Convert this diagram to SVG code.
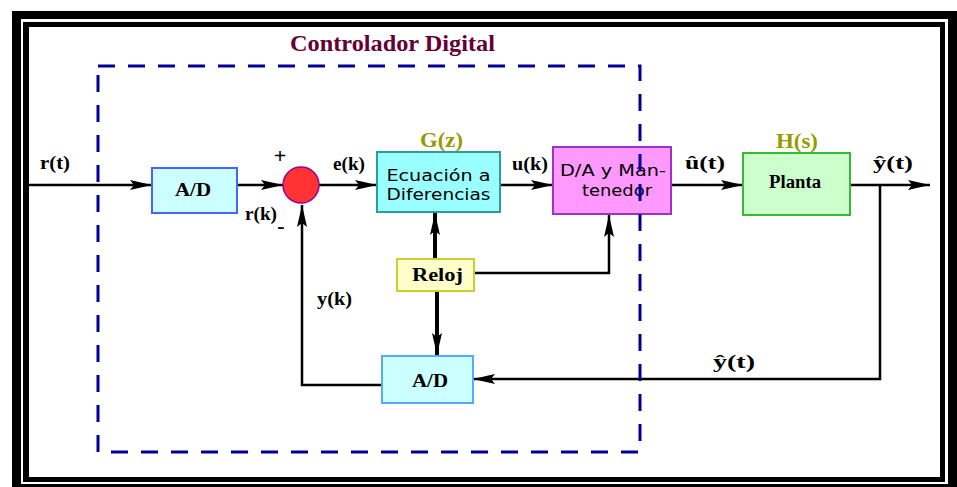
<svg xmlns="http://www.w3.org/2000/svg" width="957" height="487" viewBox="0 0 957 487">
<style>
.ln{fill:none;stroke:#000;stroke-width:2.5}
.thk{fill:none;stroke:#000;stroke-width:4}
.lbl{font-family:"Liberation Serif",serif;font-weight:bold;font-size:18px;fill:#000}
.olive{font-family:"Liberation Serif",serif;font-weight:bold;font-size:20px;fill:#999900}
.sans{font-family:"DejaVu Sans","Liberation Sans",sans-serif;font-size:16px;fill:#000}
.ser{font-family:"Liberation Serif",serif;font-weight:bold;font-size:18px;fill:#000}
</style>
<defs>
<marker id="ah" markerWidth="22" markerHeight="12" refX="22" refY="6" orient="auto" markerUnits="userSpaceOnUse">
<path d="M0,1 L22,6 L0,11 L4,6 Z" fill="#000"/>
</marker>
</defs>
<rect width="957" height="487" fill="#fff"/>
<g id="frame">
<rect x="12" y="11" width="945" height="476" fill="#000"/>
<rect x="21" y="19" width="927" height="465" fill="#fff"/>
<rect x="23" y="22" width="922" height="460" fill="#000"/>
<rect x="29" y="27" width="911" height="450" fill="#fff"/>
</g>
<g id="connectors">
<line class="ln" x1="29" y1="185" x2="152" y2="185" marker-end="url(#ah)"/>
<line class="ln" x1="237" y1="185" x2="283" y2="185" marker-end="url(#ah)"/>
<line class="ln" x1="319" y1="185" x2="377" y2="185" marker-end="url(#ah)"/>
<line class="ln" x1="500" y1="185" x2="553" y2="185" marker-end="url(#ah)"/>
<line class="ln" x1="671" y1="185" x2="743" y2="185" marker-end="url(#ah)"/>
<line class="ln" x1="850" y1="185" x2="930" y2="185" marker-end="url(#ah)"/>
<polyline class="ln" points="880,185 880,379 473,379" marker-end="url(#ah)"/>
<polyline class="ln" points="382,385 302,385 302,205" marker-end="url(#ah)"/>
<line class="thk" x1="435" y1="259" x2="435" y2="213" marker-end="url(#ah)"/>
<line class="thk" x1="437" y1="291" x2="437" y2="355" marker-end="url(#ah)"/>
<polyline class="ln" points="474,273 609,273 609,215" marker-end="url(#ah)"/>
</g>
<g id="ad1">
<rect x="152" y="168" width="85" height="45" fill="#ccffff" stroke="#4466ff" stroke-width="2"/>
<text class="ser" x="175" y="196" textLength="36" lengthAdjust="spacingAndGlyphs">A/D</text>
</g>
<g id="sum">
<circle cx="301" cy="185" r="18" fill="#ff3333" stroke="#990099" stroke-width="1.5"/>
<text class="lbl" x="280" y="163" text-anchor="middle" style="font-size:22px">+</text>
<text class="lbl" x="281" y="233" text-anchor="middle" style="font-size:22px">-</text>
</g>
<g id="ecuacion">
<rect x="377" y="152" width="123" height="60" fill="#99ffff" stroke="#339999" stroke-width="2"/>
<text class="sans" x="438.5" y="181" text-anchor="middle" textLength="104" lengthAdjust="spacingAndGlyphs">Ecuación a</text>
<text class="sans" x="438.5" y="200" text-anchor="middle" textLength="104" lengthAdjust="spacingAndGlyphs">Diferencias</text>
<text class="olive" x="420" y="147" textLength="43" lengthAdjust="spacingAndGlyphs">G(z)</text>
</g>
<g id="da">
<rect x="553" y="147" width="118" height="67" fill="#ff99ff" stroke="#9933cc" stroke-width="2"/>
<text class="sans" x="560" y="176" textLength="106" lengthAdjust="spacingAndGlyphs">D/A y Man-</text>
<text class="sans" x="582" y="196" textLength="70" lengthAdjust="spacingAndGlyphs">tenedor</text>
</g>
<g id="planta">
<rect x="743" y="153" width="107" height="62" fill="#ccffcc" stroke="#33bb33" stroke-width="2"/>
<text class="ser" x="769" y="188" textLength="52" lengthAdjust="spacingAndGlyphs">Planta</text>
<text class="olive" x="776" y="148" textLength="42" lengthAdjust="spacingAndGlyphs">H(s)</text>
</g>
<g id="reloj">
<rect x="397" y="259" width="77" height="32" fill="#ffffcc" stroke="#cccc33" stroke-width="2"/>
<text class="ser" x="412" y="281" textLength="51" lengthAdjust="spacingAndGlyphs">Reloj</text>
</g>
<g id="ad2">
<rect x="382" y="356" width="91" height="47" fill="#ccffff" stroke="#55aaff" stroke-width="2"/>
<text class="ser" x="412" y="387" textLength="36" lengthAdjust="spacingAndGlyphs">A/D</text>
</g>
<g id="labels">
<text class="lbl" x="40" y="169" textLength="30" lengthAdjust="spacingAndGlyphs">r(t)</text>
<text class="lbl" x="245" y="220" textLength="32" lengthAdjust="spacingAndGlyphs">r(k)</text>
<text class="lbl" x="333" y="170" textLength="32" lengthAdjust="spacingAndGlyphs">e(k)</text>
<text class="lbl" x="512" y="170" textLength="36" lengthAdjust="spacingAndGlyphs">u(k)</text>
<text class="lbl" x="685" y="169" textLength="40" lengthAdjust="spacingAndGlyphs">û(t)</text>
<text class="lbl" x="873" y="169" textLength="40" lengthAdjust="spacingAndGlyphs">ŷ(t)</text>
<text class="lbl" x="713" y="368" textLength="42" lengthAdjust="spacingAndGlyphs">ŷ(t)</text>
<text class="lbl" x="317" y="305" textLength="35" lengthAdjust="spacingAndGlyphs">y(k)</text>
</g>
<g id="controlador">
<rect x="98" y="66" width="542" height="386" fill="none" stroke="#000099" stroke-width="3" stroke-dasharray="17,13"/>
<text x="290" y="51" font-family="Liberation Serif,serif" font-weight="bold" font-size="23" fill="#660033" textLength="205" lengthAdjust="spacingAndGlyphs">Controlador Digital</text>
</g>
</svg>
